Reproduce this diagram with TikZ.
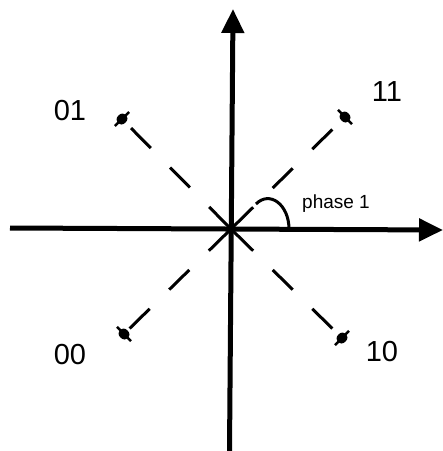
\documentclass[tikz,border=0pt]{standalone}
\usepackage{fontspec}
\setmainfont{Liberation Sans}
\usetikzlibrary{arrows.meta,calc,shapes.geometric}
\begin{document}
\begin{tikzpicture}[x=1pt,y=-1pt,
  axisline/.style={line width=5pt,-{Triangle[length=24pt,width=22pt]}},
  diag/.style={line width=3pt,dash pattern=on 31pt off 27.5pt on 28pt off 27.5pt on 28pt off 80pt},
  dotn/.style={ellipse,fill=black,inner sep=0pt,minimum width=12pt,minimum height=10pt},
  tick/.style={line width=2.5pt},
  lbl/.style={font=\fontsize{29}{32}\selectfont,inner sep=0pt},
  small/.style={font=\fontsize{19}{22}\selectfont,inner sep=0pt}]
\useasboundingbox (0,0) rectangle (443,451);
\coordinate (O) at (231,229);
\coordinate (xs) at (10,228);
\coordinate (xe) at (443,230);
\coordinate (ys) at (229.5,451);
\coordinate (ye) at (233,9);
\draw[axisline] (xs) -- (xe);
\draw[axisline] (ys) -- (ye);
\node[dotn,rotate=45] (p01) at (122,119) {};
\node[dotn,rotate=-45] (p11) at (345,117) {};
\node[dotn,rotate=-45] (p00) at (124,334) {};
\node[dotn,rotate=45] (p10) at (342,338) {};
\foreach \p in {p01,p11,p00,p10}{
  \draw[diag] (O) -- (\p.center);
  \draw[tick] ($(\p.center)!10pt!90:(O)$) -- ($(\p.center)!10pt!-90:(O)$);
}
\draw[line width=3pt] (289,229) .. controls (289,205) and (270,190) .. (256,204);
\node[lbl] (l01) at (70,111) {01};
\node[lbl] (l11) at (387,92) {11};
\node[lbl] (l00) at (70,355) {00};
\node[lbl] (l10) at (382,352) {10};
\node[small,anchor=west] (ph) at (302,204) {phase 1};
\end{tikzpicture}
\end{document}
